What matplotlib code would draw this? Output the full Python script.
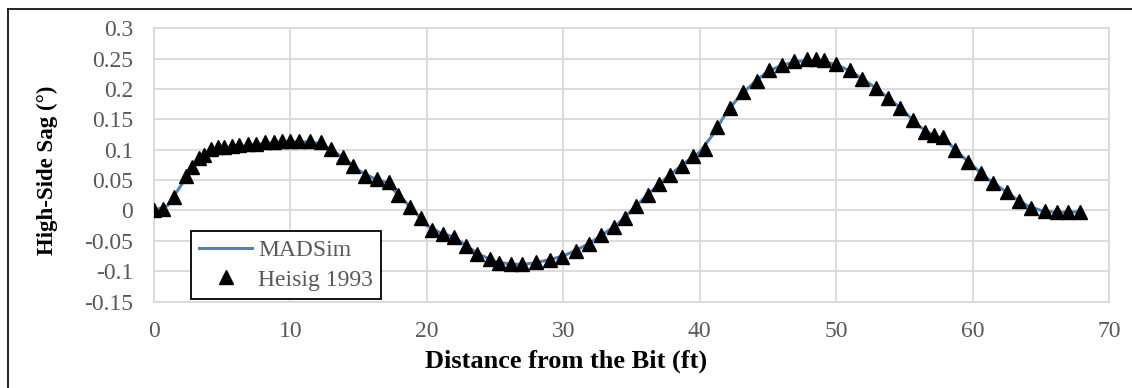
import matplotlib
matplotlib.use("Agg")
import matplotlib.pyplot as plt
from matplotlib.lines import Line2D

plt.rcParams['font.family'] = ['Liberation Serif', 'DejaVu Serif']

# Heisig 1993 measured points
heisig_x = [0, 0.65, 1.5, 2.36, 2.8, 3.28, 3.7, 4.19, 4.67, 5.16, 5.73, 6.26, 6.87, 7.49,
            8.17, 8.78, 9.39, 10.0, 10.6, 11.4, 12.25, 13.0, 13.83, 14.6, 15.5, 16.35,
            17.2, 17.9, 18.8, 19.6, 20.4, 21.2, 22.0, 22.9, 23.7, 24.6, 25.3, 26.2, 27.0,
            28.0, 29.0, 29.9, 30.9, 31.85, 32.8, 33.7, 34.5, 35.3, 36.2, 37.0, 37.8, 38.7,
            39.5, 40.4, 41.3, 42.2, 43.2, 44.2, 45.1, 46.0, 46.9, 47.9, 48.5, 49.1, 50.0,
            51.0, 51.9, 52.9, 53.8, 54.7, 55.6, 56.5, 57.2, 57.8, 58.7, 59.7, 60.6, 61.5,
            62.5, 63.4, 64.3, 65.3, 66.2, 67.0, 67.9]
heisig_y = [0.0, 0.002, 0.022, 0.057, 0.071, 0.086, 0.092, 0.102, 0.104, 0.105, 0.106,
            0.107, 0.109, 0.110, 0.112, 0.113, 0.114, 0.115, 0.115, 0.114, 0.112, 0.101,
            0.088, 0.073, 0.056, 0.052, 0.047, 0.026, 0.006, -0.013, -0.033, -0.038,
            -0.043, -0.058, -0.071, -0.080, -0.086, -0.088, -0.088, -0.085, -0.081,
            -0.076, -0.066, -0.055, -0.041, -0.027, -0.012, 0.007, 0.026, 0.043, 0.058,
            0.074, 0.089, 0.101, 0.137, 0.169, 0.195, 0.214, 0.231, 0.240, 0.246, 0.249,
            0.249, 0.248, 0.241, 0.231, 0.217, 0.202, 0.186, 0.169, 0.149, 0.129, 0.124,
            0.121, 0.100, 0.080, 0.062, 0.045, 0.030, 0.016, 0.004, -0.001, -0.003,
            -0.003, -0.002]

# MADSim simulation curve
mad_x = list(range(0, 69))
mad_y = [0.0, 0.008, 0.042, 0.075, 0.094, 0.101, 0.104, 0.107, 0.110, 0.112, 0.113,
         0.113, 0.111, 0.100, 0.085, 0.066, 0.054, 0.046, 0.024, 0.001, -0.025, -0.037,
         -0.044, -0.060, -0.074, -0.084, -0.088, -0.089, -0.086, -0.081, -0.075, -0.065,
         -0.053, -0.038, -0.022, 0.000, 0.022, 0.043, 0.062, 0.080, 0.096, 0.126, 0.163,
         0.190, 0.211, 0.229, 0.239, 0.245, 0.247, 0.246, 0.240, 0.230, 0.216, 0.200,
         0.182, 0.163, 0.140, 0.125, 0.117, 0.094, 0.074, 0.054, 0.038, 0.022, 0.008,
         0.0, -0.003, -0.003, -0.002]

x_ticks = [0, 10, 20, 30, 40, 50, 60, 70]
y_ticks = [-0.15, -0.1, -0.05, 0, 0.05, 0.1, 0.15, 0.2, 0.25, 0.3]
y_labels = ['-0.15', '-0.1', '-0.05', '0', '0.05', '0.1', '0.15', '0.2', '0.25', '0.3']

W, H = 1132, 388
fig = plt.figure(figsize=(W / 100, H / 100), dpi=100)
ax = fig.add_axes([154 / W, 1 - 301.5 / H, (1109 - 154) / W, (301.5 - 28.3) / H])

grid_c = '#D9D9D9'
text_c = '#595959'

ax.plot(mad_x, mad_y, color='#4F81BD', lw=2.2, label='MADSim', zorder=3)
ax.plot(heisig_x, heisig_y, ls='none', marker='^', ms=9.5, color='black',
        label='Heisig 1993', zorder=4)

ax.set_xlim(0, 70)
ax.set_ylim(-0.15, 0.3)
ax.set_xticks(x_ticks)
ax.set_yticks(y_ticks)
ax.set_yticklabels(y_labels)
ax.grid(True, color=grid_c, lw=1.3)
ax.set_axisbelow(True)
for s in ax.spines.values():
    s.set_color(grid_c)
    s.set_linewidth(1.3)
ax.tick_params(length=0, labelsize=17, labelcolor=text_c)
ax.tick_params(axis='x', pad=14)
ax.tick_params(axis='y', pad=15)

fig.text(566 / W, 1 - 361 / H, 'Distance from the Bit (ft)', ha='center', va='center',
         fontsize=19, fontweight='bold')
fig.text(47 / W, 1 - 170 / H, 'High-Side Sag (°)', ha='center', va='center',
         rotation=90, fontsize=16.5, fontweight='bold')

leg = ax.legend(loc='upper left', bbox_to_anchor=(190.7 / W, 1 - 231 / H),
                bbox_transform=fig.transFigure, borderaxespad=0, fontsize=17,
                frameon=True, fancybox=False, framealpha=1, handlelength=2.25,
                handletextpad=0.25, borderpad=0.35, labelspacing=0.35)
leg.get_frame().set_edgecolor('black')
leg.get_frame().set_linewidth(1.3)
for t in leg.get_texts():
    t.set_color(text_c)

# outer chart frame
fig.add_artist(Line2D([8 / W, 8 / W], [0, 1 - 9 / H], transform=fig.transFigure,
                      color='black', lw=1.2))
fig.add_artist(Line2D([8 / W, 1], [1 - 9 / H, 1 - 9 / H], transform=fig.transFigure,
                      color='black', lw=1.2))

fig.savefig('out.png', dpi=100)
